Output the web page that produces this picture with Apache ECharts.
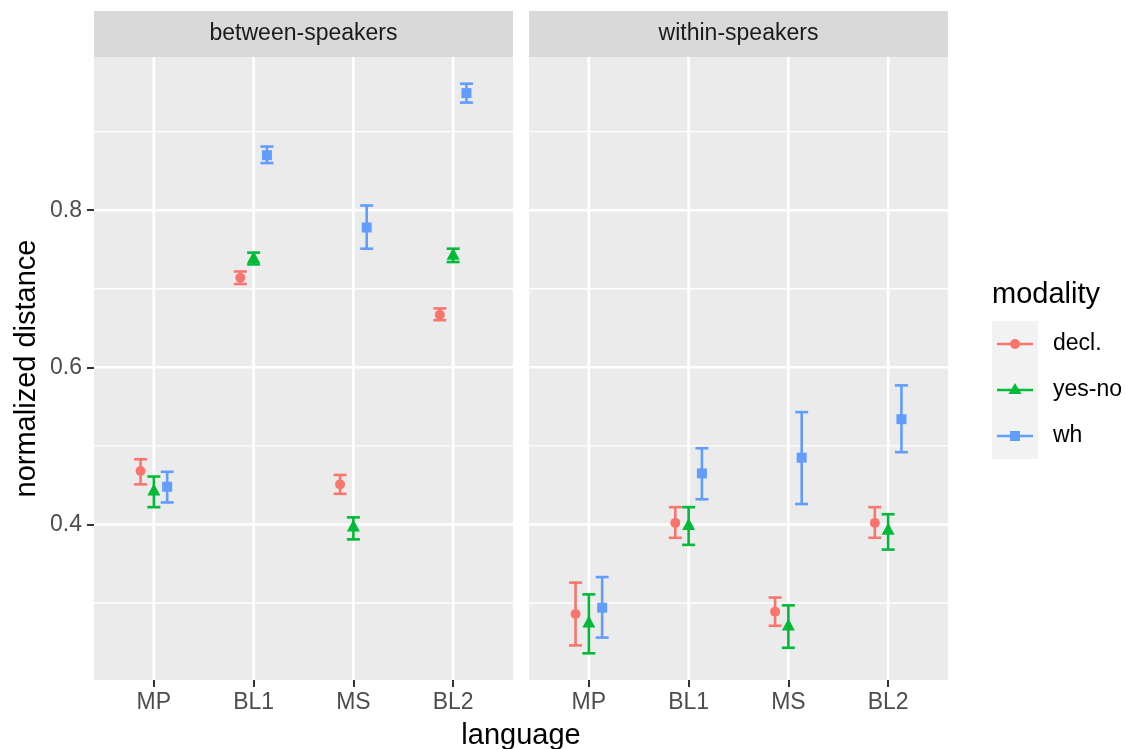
<!DOCTYPE html>
<html><head><meta charset="utf-8">
<script src="https://cdn.jsdelivr.net/npm/echarts@6/dist/echarts.min.js"></script>
<style>html,body{margin:0;padding:0;background:#fff}#c{width:1125px;height:749px}</style>
</head><body><div id="c"></div><script>
const categories = ['MP', 'BL1', 'MS', 'BL2'];
const panels = ['between-speakers', 'within-speakers'];
const modalities = ['decl.', 'yes-no', 'wh'];
const colors = ['#F8766D', '#00BA38', '#619CFF'];
const yMajorTicks = [0.4, 0.6, 0.8];
const yMinorTicks = [0.3, 0.5, 0.7, 0.9];
const xAxisTitle = 'language';
const yAxisTitle = 'normalized distance';
const legendTitle = 'modality';

// between-speakers
const betweenDeclMean  = [0.468, 0.714, 0.451, 0.667];
const betweenDeclLo    = [0.451, 0.706, 0.439, 0.660];
const betweenDeclHi    = [0.483, 0.722, 0.463, 0.675];
const betweenYesNoMean = [0.442, 0.738, 0.396, 0.742];
const betweenYesNoLo   = [0.422, 0.731, 0.381, 0.734];
const betweenYesNoHi   = [0.461, 0.746, 0.409, 0.751];
const betweenWhMean    = [0.448, 0.870, 0.778, 0.949];
const betweenWhLo      = [0.428, 0.860, 0.751, 0.937];
const betweenWhHi      = [0.467, 0.881, 0.806, 0.961];

// within-speakers
const withinDeclMean  = [0.286, 0.402, 0.289, 0.402];
const withinDeclLo    = [0.246, 0.383, 0.271, 0.383];
const withinDeclHi    = [0.326, 0.422, 0.307, 0.422];
const withinYesNoMean = [0.274, 0.398, 0.270, 0.392];
const withinYesNoLo   = [0.236, 0.374, 0.243, 0.368];
const withinYesNoHi   = [0.311, 0.422, 0.297, 0.413];
const withinWhMean    = [0.294, 0.465, 0.485, 0.534];
const withinWhLo      = [0.256, 0.432, 0.426, 0.492];
const withinWhHi      = [0.333, 0.497, 0.543, 0.577];

const panelData = [
  [
    {mean: betweenDeclMean, lo: betweenDeclLo, hi: betweenDeclHi},
    {mean: betweenYesNoMean, lo: betweenYesNoLo, hi: betweenYesNoHi},
    {mean: betweenWhMean, lo: betweenWhLo, hi: betweenWhHi}
  ],
  [
    {mean: withinDeclMean, lo: withinDeclLo, hi: withinDeclHi},
    {mean: withinYesNoMean, lo: withinYesNoLo, hi: withinYesNoHi},
    {mean: withinWhMean, lo: withinWhLo, hi: withinWhHi}
  ]
];

const FONT = 'Liberation Sans';
const dodgeWidth = 0.4;
const capWidth = 0.13;
const catPos = categories.map((c, i) => i + 1);
const offsets = modalities.map((m, i) => (i - (modalities.length - 1) / 2) * dodgeWidth / modalities.length);
const symbols = ['circle', 'triangle', 'rect'];
const symbolSizes = [10, [13, 12], 10];
const symbolOffsets = [[0, 0], [0, -2], [0, 0]];

const gridTop = 57, gridHeight = 623, gridWidth = 419;
const gridLefts = [94, 529];
const X_MIN = 0.4, X_MAX = 4.6, Y_MIN = 0.202, Y_MAX = 0.995;

const chart = echarts.init(document.getElementById('c'), null, {renderer: 'canvas'});

const grids = panels.map((p, i) => ({
  left: gridLefts[i], top: gridTop, width: gridWidth, height: gridHeight,
  show: true, backgroundColor: '#EBEBEB', borderWidth: 0
}));

const xAxes = panels.map((p, i) => ({
  type: 'value', gridIndex: i, min: X_MIN, max: X_MAX,
  axisLine: {show: false},
  splitLine: {show: false},
  axisTick: {show: true, customValues: catPos, length: 7, lineStyle: {color: '#333333', width: 2}},
  axisLabel: {customValues: catPos, formatter: v => categories[Math.round(v) - 1],
    color: '#4D4D4D', fontSize: 23, fontFamily: FONT, margin: 11}
}));

const yAxes = panels.map((p, i) => ({
  type: 'value', gridIndex: i, min: Y_MIN, max: Y_MAX,
  axisLine: {show: false},
  splitLine: {show: false},
  axisTick: {show: i === 0, customValues: yMajorTicks, length: 7, lineStyle: {color: '#333333', width: 2}},
  axisLabel: {show: i === 0, customValues: yMajorTicks, formatter: v => v.toFixed(1),
    color: '#4D4D4D', fontSize: 23, fontFamily: FONT, margin: 12}
}));

const series = [];
panels.forEach((p, i) => {
  // grid lines: [orientation (0 = horizontal, 1 = vertical), value, lineWidth]
  const lines = [];
  yMinorTicks.forEach(v => lines.push([0, v, 1.3]));
  yMajorTicks.forEach(v => lines.push([0, v, 2.6]));
  catPos.forEach(v => lines.push([1, v, 2.6]));
  series.push({
    type: 'custom', xAxisIndex: i, yAxisIndex: i, silent: true, z: 1,
    data: lines,
    encode: {x: [], y: []},
    renderItem: (params, api) => {
      const cs = params.coordSys;
      const o = api.value(0), v = api.value(1), w = api.value(2);
      let shape;
      if (o === 0) {
        const y = api.coord([X_MIN, v])[1];
        shape = {x1: cs.x, y1: y, x2: cs.x + cs.width, y2: y};
      } else {
        const x = api.coord([v, Y_MIN])[0];
        shape = {x1: x, y1: cs.y, x2: x, y2: cs.y + cs.height};
      }
      return {type: 'line', shape: shape, style: {stroke: '#FFFFFF', lineWidth: w}};
    }
  });
  modalities.forEach((m, j) => {
    const d = panelData[i][j];
    series.push({
      type: 'custom', name: m, xAxisIndex: i, yAxisIndex: i, z: 2, silent: true,
      data: categories.map((c, k) => [catPos[k] + offsets[j], d.lo[k], d.hi[k]]),
      encode: {x: 0, y: [1, 2]},
      renderItem: (params, api) => {
        const x = api.value(0);
        const pLo = api.coord([x, api.value(1)]);
        const pHi = api.coord([x, api.value(2)]);
        const hw = api.size([capWidth, 0])[0] / 2;
        const st = {stroke: colors[j], lineWidth: 2.6, lineCap: 'butt'};
        return {type: 'group', children: [
          {type: 'line', shape: {x1: pLo[0], y1: pLo[1], x2: pHi[0], y2: pHi[1]}, style: st},
          {type: 'line', shape: {x1: pLo[0] - hw, y1: pLo[1], x2: pLo[0] + hw, y2: pLo[1]}, style: st},
          {type: 'line', shape: {x1: pHi[0] - hw, y1: pHi[1], x2: pHi[0] + hw, y2: pHi[1]}, style: st}
        ]};
      }
    });
    series.push({
      type: 'scatter', name: m, xAxisIndex: i, yAxisIndex: i, z: 3, silent: true,
      symbol: symbols[j], symbolSize: symbolSizes[j], symbolOffset: symbolOffsets[j],
      itemStyle: {color: colors[j], opacity: 1},
      data: categories.map((c, k) => [catPos[k] + offsets[j], d.mean[k]])
    });
  });
});

const graphics = [];
// strips
panels.forEach((p, i) => {
  graphics.push({type: 'rect', left: gridLefts[i], top: 11, shape: {width: gridWidth, height: gridTop - 11},
    style: {fill: '#D9D9D9'}, silent: true});
  graphics.push({type: 'text', x: gridLefts[i] + gridWidth / 2, y: (11 + gridTop) / 2,
    style: {text: p, fill: '#1A1A1A', font: '23px ' + FONT, textAlign: 'center', textVerticalAlign: 'middle'}, silent: true});
});
// axis titles
graphics.push({type: 'text', x: (gridLefts[0] + gridLefts[1] + gridWidth) / 2, y: 736,
  style: {text: xAxisTitle, fill: '#000000', font: '29px ' + FONT, textAlign: 'center', textVerticalAlign: 'middle'}, silent: true});
graphics.push({type: 'text', x: 27, y: gridTop + gridHeight / 2, rotation: Math.PI / 2,
  style: {text: yAxisTitle, fill: '#000000', font: '29px ' + FONT, textAlign: 'center', textVerticalAlign: 'middle'}, silent: true});
// legend
const legX = 992, legY = 321, keyW = 46, keyH = 46;
graphics.push({type: 'text', x: legX, y: 295,
  style: {text: legendTitle, fill: '#000000', font: '29px ' + FONT, textAlign: 'left', textVerticalAlign: 'middle'}, silent: true});
graphics.push({type: 'rect', x: legX, y: legY, shape: {width: keyW, height: keyH * modalities.length},
  style: {fill: '#F2F2F2'}, silent: true});
modalities.forEach((m, j) => {
  const cy = legY + keyH * j + keyH / 2;
  const cx = legX + keyW / 2;
  graphics.push({type: 'line', shape: {x1: legX + 5, y1: cy, x2: legX + keyW - 5, y2: cy},
    style: {stroke: colors[j], lineWidth: 2.6}, silent: true});
  if (j === 0) {
    graphics.push({type: 'circle', shape: {cx: cx, cy: cy, r: 5}, style: {fill: colors[j]}, silent: true});
  } else if (j === 1) {
    graphics.push({type: 'polygon', shape: {points: [[cx, cy - 7], [cx + 6.5, cy + 4], [cx - 6.5, cy + 4]]},
      style: {fill: colors[j]}, silent: true});
  } else {
    graphics.push({type: 'rect', shape: {x: cx - 5, y: cy - 5, width: 10, height: 10}, style: {fill: colors[j]}, silent: true});
  }
  graphics.push({type: 'text', x: legX + keyW + 15, y: cy,
    style: {text: m, fill: '#000000', font: '23px ' + FONT, textAlign: 'left', textVerticalAlign: 'middle'}, silent: true});
});

chart.setOption({
  animation: false,
  backgroundColor: '#FFFFFF',
  grid: grids,
  xAxis: xAxes,
  yAxis: yAxes,
  series: series,
  graphic: graphics
});
</script></body></html>
